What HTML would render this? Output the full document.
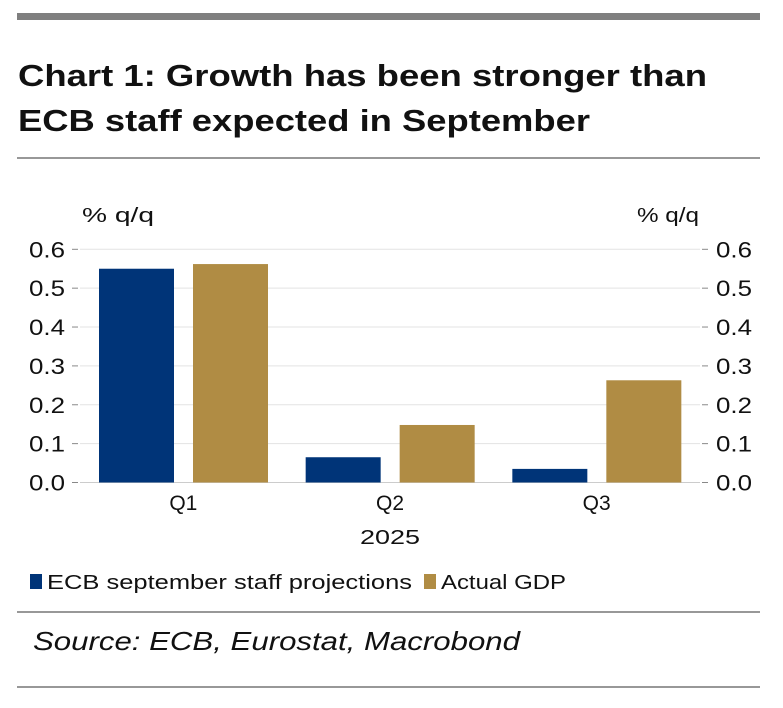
<!DOCTYPE html>
<html><head><meta charset="utf-8">
<style>
body{margin:0;background:#fff;width:783px;height:708px;overflow:hidden;font-family:"Liberation Sans",sans-serif;}
svg{position:absolute;left:0;top:0;}
</style></head>
<body>
<svg width="783" height="708" id="chart">
<rect x="17" y="13" width="743" height="7" fill="#7f7f7f"/>
<text x="18" y="86" font-size="31" font-weight="bold" fill="#111" textLength="689" lengthAdjust="spacingAndGlyphs">Chart 1: Growth has been stronger than</text>
<text x="18" y="131" font-size="31" font-weight="bold" fill="#111" textLength="572" lengthAdjust="spacingAndGlyphs">ECB staff expected in September</text>
<line x1="17" y1="158" x2="760" y2="158" stroke="#777" stroke-width="1.5"/>
<text x="82" y="222" font-size="20" fill="#111" textLength="72" lengthAdjust="spacingAndGlyphs">% q/q</text>
<text x="637" y="222" font-size="20" fill="#111" textLength="62" lengthAdjust="spacingAndGlyphs">% q/q</text>
<g id="grid"></g>
<g id="bars"></g>
<text x="360" y="544" font-size="20" fill="#111" textLength="60" lengthAdjust="spacingAndGlyphs">2025</text>
<rect x="30" y="574" width="12" height="15" fill="#003478"/>
<text x="47" y="589" font-size="20" fill="#111" textLength="365" lengthAdjust="spacingAndGlyphs">ECB september staff projections</text>
<rect x="424" y="574" width="12" height="15" fill="#b08c44"/>
<text x="441" y="589" font-size="20" fill="#111" textLength="125" lengthAdjust="spacingAndGlyphs">Actual GDP</text>
<line x1="17" y1="612" x2="760" y2="612" stroke="#777" stroke-width="1.5"/>
<text x="33" y="650" font-size="26" font-style="italic" fill="#111" textLength="487" lengthAdjust="spacingAndGlyphs">Source: ECB, Eurostat, Macrobond</text>
<line x1="17" y1="687" x2="760" y2="687" stroke="#777" stroke-width="1.5"/>
</svg>
<script>
const categories = ["Q1","Q2","Q3"];
const ecbValues = [0.55, 0.065, 0.035];
const gdpValues = [0.562, 0.148, 0.263];
const tickValues = [0, 0.1, 0.2, 0.3, 0.4, 0.5, 0.6];
const tickLabels = ["0.0","0.1","0.2","0.3","0.4","0.5","0.6"];

const NS = "http://www.w3.org/2000/svg";
const x0 = 80, x1 = 700, y0 = 482.5, yTop = 249.3, yMax = 0.6;
const yScale = v => y0 - (v / yMax) * (y0 - yTop);
const bandW = (x1 - x0) / categories.length;
const xBand = i => x0 + i * bandW;
function mk(tag, attrs, parent) {
  const e = document.createElementNS(NS, tag);
  for (const k in attrs) e.setAttribute(k, attrs[k]);
  parent.appendChild(e);
  return e;
}
const grid = document.getElementById('grid');
const bars = document.getElementById('bars');
tickValues.forEach((v, i) => {
  const y = yScale(v);
  if (v !== 0) {
    const g = mk('line', {x1: x0, x2: x1, y1: y, y2: y, stroke: '#e3e3e3', 'stroke-width': 1}, grid);
    
    
  }
  const lt = mk('line', {x1: 72, x2: 78, y1: y, y2: y, stroke: '#888', 'stroke-width': 1}, grid);
  
  
  const rt = mk('line', {x1: 702, x2: 708, y1: y, y2: y, stroke: '#888', 'stroke-width': 1}, grid);
  
  
  const l = mk('text', {x: 29, y: y + 8, 'font-size': 22, fill: '#111', textLength: 36, lengthAdjust: 'spacingAndGlyphs'}, grid);
  l.textContent = tickLabels[i];
  
  
  const r = mk('text', {x: 716, y: y + 8, 'font-size': 22, fill: '#111', textLength: 36, lengthAdjust: 'spacingAndGlyphs'}, grid);
  r.textContent = tickLabels[i];
  
  
});
const ax = mk('line', {x1: x0, x2: x1, y1: y0, y2: y0, stroke: '#ccc', 'stroke-width': 1}, grid);


categories.forEach((c, i) => {
  const bx = xBand(i);
  const yb = yScale(ecbValues[i]);
  const b1 = mk('rect', {x: bx + 19, y: yb, width: 75, height: y0 - yb, fill: '#003478'}, bars);
  
  
  const yg = yScale(gdpValues[i]);
  const b2 = mk('rect', {x: bx + 113, y: yg, width: 75, height: y0 - yg, fill: '#b08c44'}, bars);
  
  
  const t = mk('text', {x: bx + bandW / 2, y: 510, 'font-size': 21, fill: '#111', 'text-anchor': 'middle'}, bars);
  t.textContent = c;
  
  
});
</script>
</body></html>
